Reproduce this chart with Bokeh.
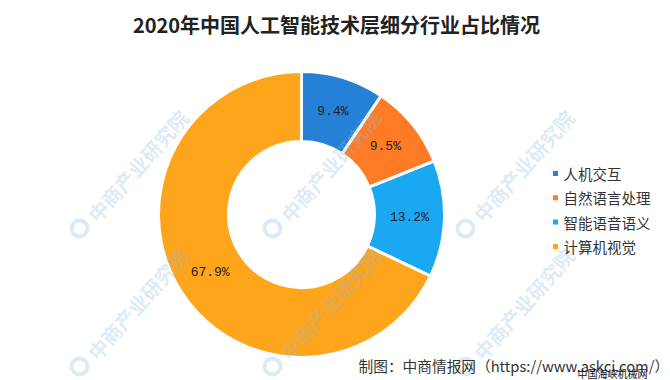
import numpy as np
from bokeh.plotting import figure
from bokeh.models import Range1d, ColumnDataSource
from bokeh.core.properties import value
from bokeh.embed import file_html
from bokeh.resources import INLINE

title = "2020年中国人工智能技术层细分行业占比情况"
categories = ["人机交互", "自然语言处理", "智能语音语义", "计算机视觉"]
shares = [9.4, 9.5, 13.2, 67.9]
colors = ["#2481D6", "#FF7B25", "#1AA8F2", "#FFA51C"]
source_text = "制图：中商情报网（https://www.askci.com/）"
stamp_text = "中国海峡机械网"
watermark = "中商产业研究院"

W, H = 670, 380
p = figure(width=W, height=H, output_backend="svg", toolbar_location=None,
           x_range=Range1d(0, W), y_range=Range1d(0, H), min_border=0,
           outline_line_color=None, background_fill_color="white")
p.axis.visible = False
p.grid.visible = False

# donut
cx, cy = 301, H - 214
r_out, r_in = 143, 73
vals = np.array(shares)
frac = vals / vals.sum()
cum = np.cumsum(frac)
prev = np.concatenate([[0], cum[:-1]])
start = np.pi / 2 - prev * 2 * np.pi
end = np.pi / 2 - cum * 2 * np.pi
mid = (start + end) / 2
r_lab = (r_out + r_in) / 2
src = ColumnDataSource(dict(
    start=start, end=end, color=colors,
    lx=cx + r_lab * np.cos(mid), ly=cy + r_lab * np.sin(mid),
    lab=[f"{v:.1f}%" for v in shares],
))
p.annular_wedge(x=cx, y=cy, inner_radius=r_in, outer_radius=r_out,
                start_angle="start", end_angle="end", direction="clock",
                fill_color="color", line_color="white", line_width=3, source=src)

# watermarks (only those that lie fully inside the picture)
wx, wy = [], []
for yy in (228, 366):
    for xx in (79, 272, 465):
        wx.append(xx)
        wy.append(H - yy)
wsrc = ColumnDataSource(dict(x=wx, y=wy, tx=[x + 12 for x in wx], ty=[y + 10 for y in wy],
                             t=[watermark] * len(wx)))
p.scatter(x="x", y="y", source=wsrc, size=16, marker="circle", fill_color=None,
          line_color="#8cb8dc", line_width=4, line_alpha=0.3)
p.text(x="tx", y="ty", text="t", source=wsrc, angle=0.85, text_baseline="middle",
       text_font=value("Noto Sans CJK SC"), text_font_style="bold",
       text_font_size="20px", text_color="#8cb8dc", text_alpha=0.3)

# slice labels
p.text(x="lx", y="ly", text="lab", source=src, text_align="center",
       text_baseline="middle", text_font=value("Liberation Mono"),
       text_font_size="13px", text_color="#222222")

# title
p.text(x=[336], y=[H - 24], text=[title], text_align="center", text_baseline="middle",
       text_font=value("Noto Sans CJK SC"), text_font_style="bold",
       text_font_size="20px", text_color="#222222")

# legend
n = len(categories)
ly = H - (173 + 24.3 * np.arange(n))
lsrc = ColumnDataSource(dict(x=[555] * n, tx=[563] * n, y=ly, color=colors, name=categories))
p.rect(x="x", y="y", width=5, height=5, fill_color="color", line_color=None, source=lsrc)
p.text(x="tx", y="y", text="name", source=lsrc, text_baseline="middle",
       text_font=value("Noto Sans CJK SC"), text_font_size="14.5px", text_color="#333333")

# source note
p.text(x=[358], y=[H - 365], text=[source_text], text_baseline="middle",
       text_font=value("Noto Sans CJK SC"), text_font_size="14.7px", text_color="#333333")
p.text(x=[577], y=[H - 373], text=[stamp_text], text_baseline="middle",
       text_font=value("Noto Sans CJK SC"), text_font_size="10px", text_color="#111111")

open("out.html", "w").write(file_html(p, INLINE))
